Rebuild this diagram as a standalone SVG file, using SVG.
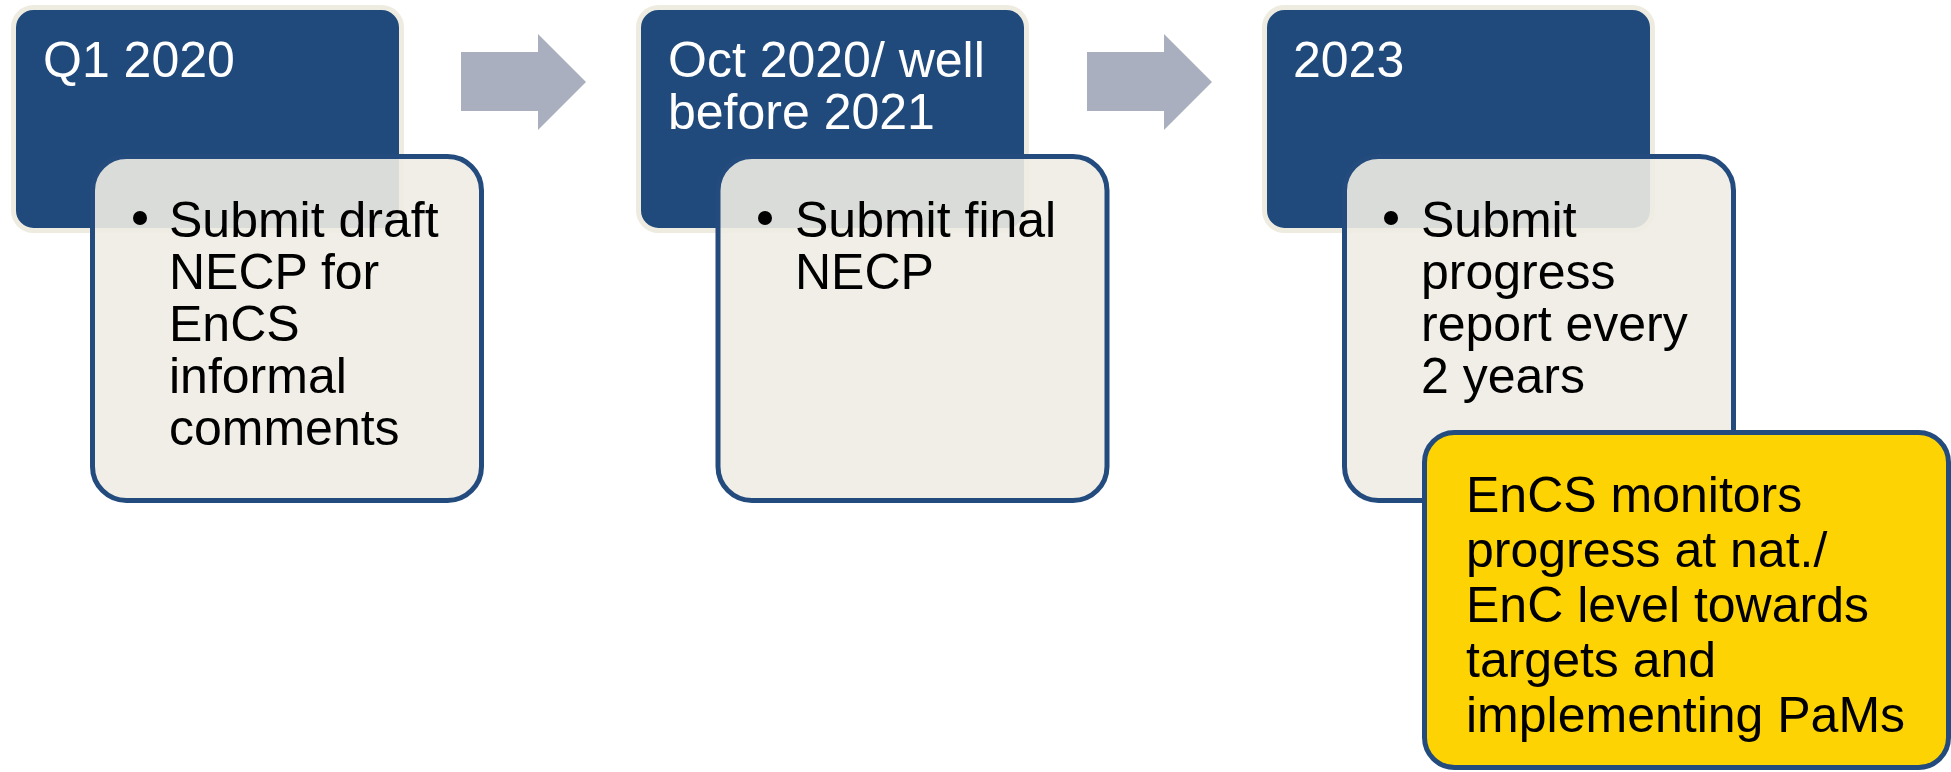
<svg xmlns="http://www.w3.org/2000/svg" width="1951" height="772" viewBox="0 0 1951 772">
<style>
.hdr{fill:#214A7C;stroke:#EEECE1;stroke-width:5}
.card{fill:#EEECE3;fill-opacity:0.9;stroke:#234B7E;stroke-width:5}
.note{fill:#FDD303;stroke:#234B7E;stroke-width:5}
.arrow{fill:#A9AFBE}
.t{font-family:"Liberation Sans",Arial,sans-serif;font-size:50px}
.w{fill:#FFFFFF}
.b{fill:#000000}
</style>
<rect width="1951" height="772" fill="#FFFFFF"/>
<g id="connectors">
<polygon class="arrow" points="461,52 538,52 538,34 586,82 538,130 538,111 461,111"/>
<polygon class="arrow" points="1087,52 1164,52 1164,34 1212,82 1164,130 1164,111 1087,111"/>
</g>
<g id="node-q1-2020">
<rect class="hdr" x="13.5" y="7.5" width="388" height="223" rx="20"/>
<text class="t w" x="43" y="77">Q1 2020</text>
</g>
<g id="node-q1-2020-detail">
<rect class="card" x="92.5" y="156.5" width="389" height="344" rx="34"/>
<circle class="b" cx="140" cy="218" r="7"/>
<text class="t b" x="169" y="237">Submit draft</text>
<text class="t b" x="169" y="289">NECP for</text>
<text class="t b" x="169" y="341">EnCS</text>
<text class="t b" x="169" y="393">informal</text>
<text class="t b" x="169" y="445">comments</text>
</g>
<g id="node-oct-2020">
<rect class="hdr" x="638.5" y="7.5" width="388" height="223" rx="20"/>
<text class="t w" x="668" y="77">Oct 2020/ well</text>
<text class="t w" x="668" y="129">before 2021</text>
</g>
<g id="node-oct-2020-detail">
<rect class="card" x="718" y="156.5" width="389" height="344" rx="34"/>
<circle class="b" cx="765" cy="218" r="7"/>
<text class="t b" x="795" y="237">Submit final</text>
<text class="t b" x="795" y="289">NECP</text>
</g>
<g id="node-2023">
<rect class="hdr" x="1264.5" y="7.5" width="388" height="223" rx="20"/>
<text class="t w" x="1293" y="77">2023</text>
</g>
<g id="node-2023-detail">
<rect class="card" x="1344.5" y="156.5" width="389" height="344" rx="34"/>
<circle class="b" cx="1391" cy="218" r="7"/>
<text class="t b" x="1421" y="237">Submit</text>
<text class="t b" x="1421" y="289">progress</text>
<text class="t b" x="1421" y="341">report every</text>
<text class="t b" x="1421" y="393">2 years</text>
</g>
<g id="node-encs-monitors">
<rect class="note" x="1424.5" y="432.5" width="524" height="335" rx="30"/>
<text class="t b" x="1466" y="512">EnCS monitors</text>
<text class="t b" x="1466" y="567">progress at nat./</text>
<text class="t b" x="1466" y="622">EnC level towards</text>
<text class="t b" x="1466" y="677">targets and</text>
<text class="t b" x="1466" y="732">implementing PaMs</text>
</g>
</svg>
